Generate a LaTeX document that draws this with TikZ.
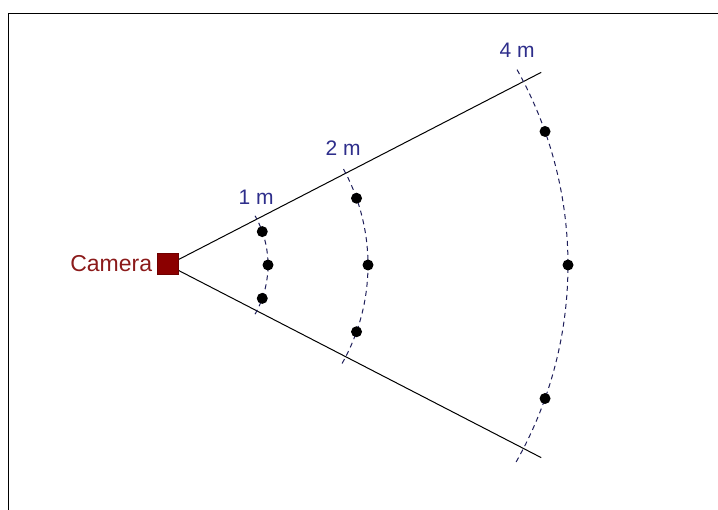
\documentclass[tikz,border=0pt]{standalone}
\usepackage{fontspec}
\setmainfont{Liberation Sans}
\usepackage{tikz}
\usetikzlibrary{calc,positioning}
\definecolor{camRed}{HTML}{8B0000}
\definecolor{camText}{HTML}{8B1A1A}
\definecolor{rangeBlue}{HTML}{2E2E8B}
\definecolor{rangeDash}{HTML}{1E1E5A}
\tikzset{
  cambox/.style={rectangle, draw=camRed!80!black, fill=camRed, minimum size=21pt, inner sep=0pt},
  camlabel/.style={text=camText, font=\fontsize{23}{26}\selectfont, inner sep=1pt},
  fovline/.style={line width=1pt, draw=black},
  rangearc/.style={dash pattern=on 5pt off 4pt, line width=1pt, draw=rangeDash},
  rangelabel/.style={text=rangeBlue, font=\fontsize{21}{24}\selectfont, inner sep=0pt, anchor=base},
  target/.style={circle, fill=black, minimum size=11pt, inner sep=0pt},
  frameline/.style={line width=1.5pt, draw=black},
}

\begin{document}
\begin{tikzpicture}[x=1pt,y=1pt]
  \useasboundingbox (0,0) rectangle (718,510);
  \draw[frameline] (8.5,0) -- (8.5,496.5) -- (718,496.5);

  \coordinate (apex) at (168,245);
  \coordinate (fovtop) at ($(apex)+(27.3:420)$);
  \coordinate (fovbot) at ($(apex)+(-27.3:420)$);
  \draw[fovline] (apex) -- (fovtop);
  \draw[fovline] (apex) -- (fovbot);
  \node[cambox] (cam) at (168,246) {};
  \node[camlabel, left=4pt of cam] (camtext) {Camera};

  \foreach \r/\name in {100/1, 200/2, 400/4} {
    \draw[rangearc] ($(apex)+(-29.5:\r)$) arc[start angle=-29.5, end angle=29.5, radius=\r];
    \coordinate (arctop\name) at ($(apex)+(29.5:\r)$);
    \node[rangelabel] (lbl\name) at ($(arctop\name)+(1,11)$) {\name~m};
    \foreach \a/\k in {-19.5/lo, 0/mid, 19.5/hi} { \node[target] (dot\name\k) at ($(apex)+(\a:\r)$) {}; }
  }
\end{tikzpicture}
\end{document}
